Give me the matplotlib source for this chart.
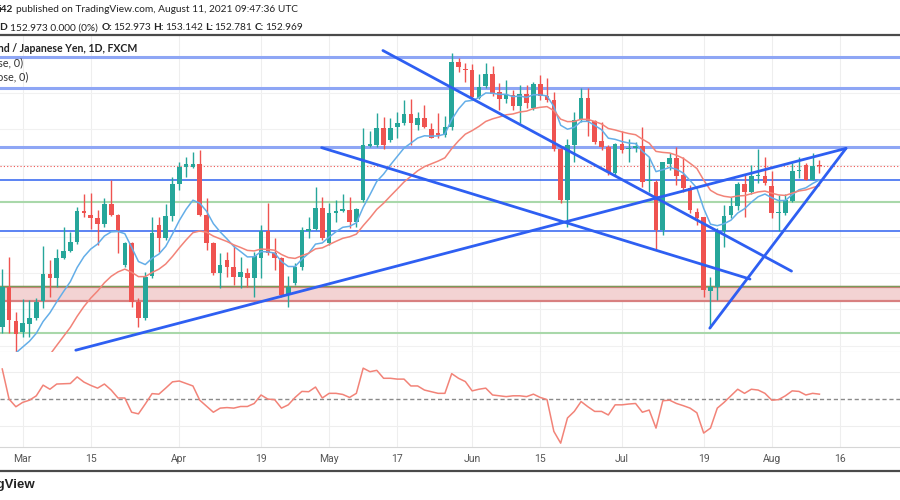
import numpy as np
import pandas as pd
import matplotlib
matplotlib.use("Agg")
import matplotlib.pyplot as plt
from matplotlib.lines import Line2D

# GBP/JPY daily bars, Feb 24 - Aug 11 2021
dates = pd.bdate_range("2021-02-24", "2021-08-11")

opens = [148.52, 149.63, 148.69, 148.38, 148.59, 148.75, 149.24, 149.98, 149.86, 150.42,
         150.63, 150.87, 151.73, 151.61, 151.52, 151.36, 151.92, 151.61, 150.23, 150.85,
         149.21, 148.75, 149.92, 151.34, 150.99, 151.59, 152.47, 152.95, 152.95, 153.03,
         151.61, 150.83, 150.00, 150.37, 150.18, 149.91, 150.02, 149.86, 150.42, 151.18,
         150.57, 150.43, 149.40, 149.72, 150.18, 151.18, 151.22, 151.82, 150.83, 151.66,
         151.73, 151.75, 151.41, 152.03, 153.53, 153.55, 154.02, 153.69, 154.06, 154.15,
         154.40, 154.11, 154.31, 154.00, 153.88, 153.83, 154.04, 155.86, 155.66, 155.63,
         154.85, 155.19, 155.51, 155.03, 154.83, 154.94, 154.64, 154.96, 154.57, 155.24,
         154.92, 154.80, 153.44, 152.03, 153.55, 154.25, 154.86, 154.22, 153.67, 153.51,
         152.77, 153.58, 153.43, 153.46, 153.53, 152.56, 152.53, 151.20, 153.03, 153.18,
         152.72, 152.35, 151.70, 151.56, 149.52, 149.63, 151.18, 151.61, 151.87, 152.47,
         152.26, 152.69, 152.69, 152.42, 151.68, 151.68, 152.01, 152.82, 153.00, 152.58,
         152.973]
highs = [150.11, 150.46, 148.94, 149.28, 149.26, 149.32, 150.76, 150.37, 150.67, 151.29,
         151.15, 151.84, 152.21, 152.23, 151.75, 152.08, 152.58, 151.64, 150.87, 150.87,
         149.32, 150.04, 151.55, 151.57, 151.92, 152.66, 153.09, 153.21, 153.37, 153.41,
         152.08, 150.87, 150.55, 150.60, 150.78, 150.44, 150.14, 150.60, 151.34, 151.96,
         150.97, 150.46, 149.92, 150.28, 151.29, 151.57, 152.40, 152.12, 151.94, 152.03,
         152.21, 152.12, 151.81, 154.03, 153.94, 154.43, 154.34, 154.31, 154.48, 154.80,
         154.83, 154.48, 154.66, 154.15, 154.43, 154.36, 156.09, 155.96, 155.82, 155.79,
         155.51, 155.82, 155.75, 155.26, 155.35, 155.08, 155.22, 155.22, 155.29, 155.49,
         155.40, 155.03, 153.51, 153.71, 154.48, 155.12, 155.12, 154.24, 154.20, 153.55,
         153.60, 153.95, 153.71, 153.65, 154.06, 153.22, 152.58, 153.09, 153.34, 153.49,
         153.23, 152.45, 151.80, 151.57, 149.91, 151.25, 151.89, 152.10, 152.53, 152.72,
         153.00, 153.45, 153.21, 152.84, 152.17, 152.21, 153.05, 153.23, 153.05, 153.32,
         153.142]
lows = [148.34, 148.34, 147.82, 148.24, 148.24, 148.71, 149.03, 149.35, 149.63, 150.39,
        150.60, 150.80, 151.55, 151.22, 150.78, 151.29, 151.59, 150.55, 150.18, 149.07,
        148.52, 148.71, 149.86, 150.60, 150.92, 151.46, 152.31, 152.68, 152.91, 151.58,
        150.65, 149.95, 149.58, 149.91, 149.68, 149.58, 149.63, 149.35, 149.86, 150.52,
        150.09, 149.35, 149.06, 149.68, 150.09, 150.99, 151.20, 150.92, 150.78, 151.41,
        151.71, 151.25, 151.29, 151.98, 153.51, 153.51, 153.43, 153.64, 153.74, 154.12,
        153.55, 153.97, 154.02, 153.74, 153.76, 153.78, 153.97, 155.58, 155.31, 154.85,
        154.83, 155.12, 154.92, 154.52, 154.71, 154.52, 154.15, 154.57, 154.52, 154.80,
        154.75, 153.39, 151.96, 151.29, 153.09, 154.20, 153.81, 153.57, 153.41, 152.72,
        152.72, 153.34, 153.09, 153.37, 152.38, 152.26, 150.66, 151.06, 152.86, 152.45,
        152.26, 151.66, 151.34, 149.35, 148.48, 149.26, 150.74, 151.52, 151.75, 151.57,
        152.21, 152.50, 152.45, 151.52, 151.18, 151.61, 151.98, 152.63, 152.58, 152.58,
        152.781]
closes = [149.63, 148.71, 148.32, 148.61, 148.77, 149.21, 149.98, 149.86, 150.43, 150.63,
          150.87, 151.73, 151.66, 151.52, 151.36, 151.92, 151.61, 151.20, 150.85, 149.21,
          148.75, 149.91, 151.11, 150.99, 151.60, 152.47, 152.95, 153.02, 153.03, 151.61,
          150.83, 150.00, 150.23, 150.18, 149.91, 150.03, 149.86, 150.48, 151.18, 150.55,
          150.43, 149.40, 149.63, 150.18, 151.20, 151.22, 151.82, 150.97, 151.66, 151.73,
          151.77, 151.41, 151.78, 153.55, 153.58, 154.02, 153.55, 154.02, 154.17, 154.40,
          154.15, 154.31, 154.06, 153.76, 153.83, 154.06, 155.86, 155.72, 155.62, 154.89,
          155.17, 155.51, 154.96, 154.83, 154.96, 154.64, 154.97, 154.73, 155.24, 154.92,
          154.80, 153.44, 152.03, 153.55, 154.25, 154.86, 154.22, 153.64, 153.51, 152.80,
          153.58, 153.41, 153.44, 153.53, 152.53, 152.58, 151.20, 153.08, 153.18, 152.69,
          152.35, 151.75, 151.53, 149.54, 149.61, 151.15, 151.59, 151.86, 152.47, 152.26,
          152.69, 152.73, 152.49, 151.68, 151.70, 152.03, 152.83, 152.85, 152.58, 152.97,
          152.969]

# lower pane oscillator (zero line dashed)
osc = [110, 0, -28, -12, -4, 12, 51, 36, 55, 56, 57, 81, 62, 50, 40, 55, 33, 4, 4, -48,
       -54, -18, 20, 18, 40, 63, 66, 57, 48, -4, -26, -48, -33, -31, -33, -27, -27, -16, 15, 0,
       -2, -33, -21, 6, 28, 27, 44, 4, 21, 21, 17, 6, 21, 113, 100, 105, 76, 76, 73, 73,
       48, 48, 33, 27, 21, 21, 93, 76, 64, 30, 36, 40, 15, 12, 9, 12, 12, 9, 18, 6,
       -2, -118, -161, -69, -45, -9, -28, -45, -45, -58, -21, -21, -18, -16, -48, -40, -106, -6, -4, -16,
       -24, -33, -50, -124, -106, -33, -12, 12, 36, 21, 36, 33, 21, -4, -2, 12, 30, 28, 15, 21,
       18]

# EMA settings and their values on the first bar (below the visible range)
ema_fast_len, ema_slow_len = 9, 20
ema_fast_seed, ema_slow_seed = 147.4, 146.3

# drawn levels
levels_wide = [156.00, 155.13, 153.50]
levels_blue = [152.58, 151.17]
levels_green = [151.97, 148.34]
zone_low, zone_high = 149.23, 149.62

# drawn trend lines: bar index and price at both ends
trend_x = [(10.8, 123.9), (103.9, 123.9), (55.9, 115.9), (46.9, 109.8)]
trend_y = [(147.87, 153.46), (148.48, 153.46), (156.17, 150.06), (153.48, 149.84)]

tick_dates = ["2021-03-01", "2021-03-15", "2021-04-01", "2021-04-19", "2021-05-03", "2021-05-17",
              "2021-06-01", "2021-06-15", "2021-07-01", "2021-07-19", "2021-08-02", "2021-08-16"]
tick_labels = ["Mar", "15", "Apr", "19", "May", "17", "Jun", "15", "Jul", "19", "Aug", "16"]

GREEN = "#26a69a"
RED = "#ef5350"

o = np.array(opens)
h = np.array(highs)
l = np.array(lows)
c = np.array(closes)
x = np.arange(len(dates))


def ema(values, length, seed):
    a = 2.0 / (length + 1)
    out = [seed]
    for v in values[1:]:
        out.append(a * v + (1 - a) * out[-1])
    return np.array(out)


ema_fast = ema(c, ema_fast_len, ema_fast_seed)
ema_slow = ema(c, ema_slow_len, ema_slow_seed)

all_days = pd.bdate_range("2021-02-24", "2021-08-31")
tick_pos = [all_days.get_loc(pd.Timestamp(d)) for d in tick_dates]

plt.rcParams['font.family'] = ['Lato', 'DejaVu Sans']

fig = plt.figure(figsize=(9, 5), dpi=100, facecolor="white")
ax = fig.add_axes([0, 0.296, 1, 0.634])
ax2 = fig.add_axes([0, 0.106, 1, 0.190], sharex=ax)

ax.set_xlim(-0.33, 131.83)
ax.set_ylim(147.82, 156.60)
ax2.set_ylim(-175, 172)

# grid
for a in (ax, ax2):
    for t in tick_pos:
        a.axvline(t, color="#eeeeee", lw=0.8, zorder=0)
    for s in a.spines.values():
        s.set_visible(False)
    a.tick_params(left=False, labelleft=False, bottom=False, labelbottom=False)
for p in range(148, 157):
    ax.axhline(p, color="#f1f1f1", lw=0.8, zorder=0)
for v in (100, -100):
    ax2.axhline(v, color="#eeeeee", lw=0.8, zorder=0)
for a in (ax, ax2):
    a.spines["bottom"].set_visible(True)
    a.spines["bottom"].set_color("#d6d6d6")

# drawn zone and horizontal levels
ax.axhspan(zone_low, zone_high, color="#f3d3d3", zorder=1, lw=0)
ax.axhline(zone_low, color="#d88080", lw=1.6, zorder=1.5)
ax.axhline(zone_high, color="#d88080", lw=1.6, zorder=1.5)
ax.axhline(zone_high + 0.03, color="#7a9a58", lw=1.0, zorder=1.6)
for p in levels_wide:
    ax.axhline(p, color="#8ea6f5", lw=2.2, zorder=1.5)
for p in levels_blue:
    ax.axhline(p, color="#2f62f0", lw=1.1, zorder=1.5)
for p in levels_green:
    ax.axhline(p, color="#a9d8aa", lw=1.5, zorder=1.5)
ax.axhline(c[-1], color=RED, lw=0.8, ls=(0, (1, 2)), zorder=1.5)

# candles
up = c >= o
cols = np.where(up, GREEN, RED)
ax.vlines(x, l, h, colors=cols, lw=1.0, zorder=3)
body_bottom = np.minimum(o, c)
body_h = np.maximum(np.abs(c - o), 0.03)
ax.bar(x, body_h, bottom=body_bottom, width=0.68, color=cols, lw=0, zorder=4)

# moving averages
ax.plot(x, ema_fast, color="#64aee8", lw=1.1, zorder=5)
ax.plot(x, ema_slow, color="#f28378", lw=1.1, zorder=5)

# trend lines
for xs, ys in zip(trend_x, trend_y):
    ax.plot(xs, ys, color="#2e5ff2", lw=2.0, solid_capstyle="round", zorder=6)

# oscillator pane
ax2.axhline(0, color="#8a8a8a", lw=1.0, ls=(0, (3, 2)), zorder=1)
ax2.plot(x, osc, color="#f28378", lw=1.1, zorder=3)
ax2.set_xticks(tick_pos)
ax2.set_xticklabels(tick_labels)
ax2.tick_params(labelbottom=True, bottom=False, length=0, pad=5, labelsize=7.5, labelcolor="#555555")
for lab in ax2.get_xticklabels():
    lab.set_fontfamily(["Roboto", "DejaVu Sans"])


def px(xp, yp):
    return xp / 900.0, 1 - yp / 500.0


renderer = fig.canvas.get_renderer()


def text_row(pieces, x0, yp, size):
    xp = x0
    for s, bold, gap in pieces:
        t = fig.text(*px(xp, yp), s, fontsize=size, fontweight="bold" if bold else "normal",
                     color="#222222", va="center")
        xp += t.get_window_extent(renderer=renderer).width + gap


# header and footer rules
fig.add_artist(Line2D([0, 1], [1 - 35 / 500.0] * 2, color="#4a4a4a", lw=1.6))
fig.add_artist(Line2D([0, 1], [1 - 470.5 / 500.0] * 2, color="#4a4a4a", lw=1.6))

# header text
text_row([("i42", True, 3),
          ("published on TradingView.com, August 11, 2021 09:47:36 UTC", False, 0)], -1, 9, 7.3)
text_row([("D", True, 3), ("152.973 0.000 (0%)", False, 4),
          ("O:", True, 0.5), ("152.973", False, 3),
          ("H:", True, 0.5), ("153.142", False, 3),
          ("L:", True, 0.5), ("152.781", False, 3),
          ("C:", True, 0.5), ("152.969", False, 0)], -1, 28, 7.3)

# legend text (cut off by the left edge)
fig.text(*px(137, 48), "British Pound / Japanese Yen, 1D, FXCM", fontsize=7.6, fontweight="bold",
         color="#222222", va="center", ha="right")
fig.text(*px(23, 63), "EMA (9, close, 0)", fontsize=7.8, color="#333333", va="center", ha="right")
fig.text(*px(28, 77), "EMA (20, close, 0)", fontsize=7.8, color="#333333", va="center", ha="right")

fig.text(*px(35, 485), "TradingView", fontsize=9.5, fontweight="bold", color="#222222",
         va="center", ha="right", family=["Liberation Sans", "DejaVu Sans"])

fig.savefig("out.png", dpi=100, facecolor="white")
